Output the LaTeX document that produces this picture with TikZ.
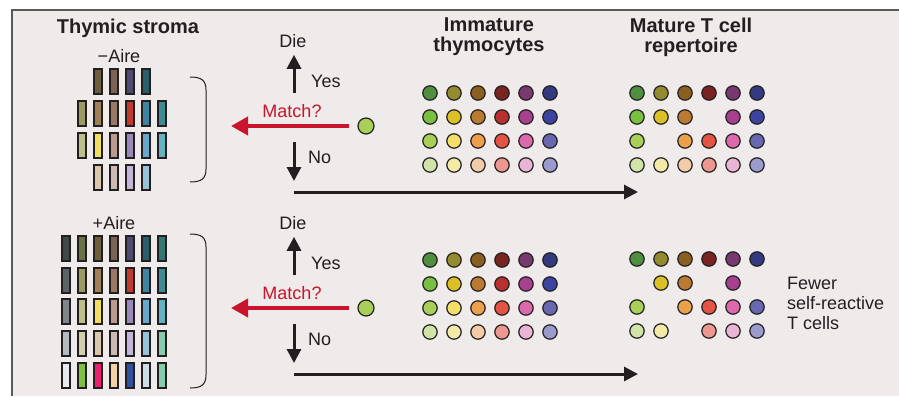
\documentclass[tikz,border=0pt]{standalone}
\usepackage{fontspec}
\setmainfont{Liberation Sans}
\usetikzlibrary{arrows.meta}
\definecolor{ink}{HTML}{231F20}
\definecolor{panel}{HTML}{EFEBEB}
\definecolor{frame}{HTML}{5A5858}
\definecolor{matchred}{HTML}{C8142C}
\definecolor{cellgreen}{HTML}{A8D058}
% clone colours, one column of the thymocyte grids per group (dark to light)
\newcommand\clonelist{{4E9040,78C040,A8D058,D0E4A8},{948A30,DCC028,F2DE68,F4EAA8},{8A6020,BA7A30,ECA04C,F2CCA8},{782420,B83030,E45444,EC9890},{7A3870,A84090,DC6AAA,E8B6D4},{343A80,3C44A0,6868B0,9A9ACC}}
\tikzset{
  title/.style={font=\fontsize{20}{20}\selectfont\bfseries, text=ink, align=center, inner sep=0pt},
  say/.style={font=\fontsize{18}{20}\selectfont, text=ink, inner sep=0pt},
  bar/.style={draw=ink, line width=1.1pt},
  dot/.style={draw=ink, line width=1.2pt},
  fate/.style={ink, line width=3pt, -{Triangle[length=14pt,width=14pt]}},
  probe/.style={matchred, line width=4pt, -{Triangle[length=17pt,width=18pt]}},
}
\begin{document}
\begin{tikzpicture}[x=1pt,y=-1pt]
  \useasboundingbox (0,0) rectangle (899,396);
  \fill [panel] (12,10) rectangle (899,396);
  \draw [frame, line width=1.4pt] (12,396) -- (12,10) -- (899,10);

  \node [title] (stroma) at (128,28) {Thymic stroma};
  \node [title] (immature) at (489,37) {Immature\\thymocytes};
  \node [title] (mature) at (691,37) {Mature T cell\\repertoire};
  \node [say] (minusaire) at (119,56) {−Aire};
  \node [say] (plusaire) at (114,223) {+Aire};

  % stroma, -Aire
  \foreach \h [count=\k from 3] in {6B5F3E,7B6353,4F4A72,2A5E6A}
    {\definecolor{tint}{HTML}{\h}\draw [bar, fill=tint] ({46+16*\k},69) rectangle +(8,25);}
  \foreach \h [count=\k from 2] in {9A9A62,A08058,9A7868,C03A30,3F85A3,3E8B92}
    {\definecolor{tint}{HTML}{\h}\draw [bar, fill=tint] ({46+16*\k},101) rectangle +(8,25);}
  \foreach \h [count=\k from 2] in {BEBE88,F2DE5E,BA9A8E,9A88BA,68A8CC,62B2C0}
    {\definecolor{tint}{HTML}{\h}\draw [bar, fill=tint] ({46+16*\k},133) rectangle +(8,25);}
  \foreach \h [count=\k from 3] in {D8C8AE,CABAB2,C0B6D8,98C2DA}
    {\definecolor{tint}{HTML}{\h}\draw [bar, fill=tint] ({46+16*\k},165) rectangle +(8,25);}

  % stroma, +Aire
  \foreach \h [count=\k] in {3E4A4A,6A7148,6B5F3E,7B6353,4F4A72,2A5E6A,367672}
    {\definecolor{tint}{HTML}{\h}\draw [bar, fill=tint] ({46+16*\k},236) rectangle +(8,25);}
  \foreach \h [count=\k] in {5A6468,9A9A62,A08058,9A7868,C03A30,3F85A3,3E8B92}
    {\definecolor{tint}{HTML}{\h}\draw [bar, fill=tint] ({46+16*\k},268) rectangle +(8,25);}
  \foreach \h [count=\k] in {7E868C,BEBE88,F2DE5E,BA9A8E,9A88BA,68A8CC,62B2C0}
    {\definecolor{tint}{HTML}{\h}\draw [bar, fill=tint] ({46+16*\k},299) rectangle +(8,25);}
  \foreach \h [count=\k] in {B4BAC0,D2CEAE,D8C8AE,CABAB2,C0B6D8,98C2DA,86CCAA}
    {\definecolor{tint}{HTML}{\h}\draw [bar, fill=tint] ({46+16*\k},331) rectangle +(8,25);}
  \foreach \h [count=\k] in {E8E8EE,7EC040,E8206E,F2D0A8,3050A0,CCDDE6,86CCAA}
    {\definecolor{tint}{HTML}{\h}\draw [bar, fill=tint] ({46+16*\k},363) rectangle +(8,25);}

  \draw [ink, line width=1pt] (190,77) .. controls (201,77) and (206,80) .. (206,90) -- (206,169) .. controls (206,179) and (201,182) .. (190,182);
  \draw [ink, line width=1pt] (190,234) .. controls (201,234) and (206,237) .. (206,247) -- (206,375) .. controls (206,385) and (201,388) .. (190,388);

  % selection step, once per panel
  \foreach \dy/\tag in {0/a,182/b} {
    \node [say] (die\tag) at (293,{41+\dy}) {Die};
    \node [say, anchor=west] (yes\tag) at (311,{81+\dy}) {Yes};
    \node [say, text=matchred] (match\tag) at (292,{111+\dy}) {Match?};
    \node [say, anchor=west] (no\tag) at (308,{157+\dy}) {No};
    \node [circle, dot, fill=cellgreen, minimum size=16pt, inner sep=0pt] (cell\tag) at (366,{126+\dy}) {};
    \coordinate (upfoot\tag) at (294,{93+\dy});
    \coordinate (probetip\tag) at (231,{126+\dy});
    \coordinate (downtop\tag) at (294,{142+\dy});
    \coordinate (downtip\tag) at (294,{181+\dy});
    \coordinate (passfoot\tag) at (294,{192+\dy});
    \coordinate (passtip\tag) at (638,{192+\dy});
    \draw [fate, shorten >=7pt] (upfoot\tag) -- (upfoot\tag |- die\tag.south);
    \draw [probe, shorten <=8pt] (cell\tag) -- (probetip\tag);
    \draw [fate] (downtop\tag) -- (downtip\tag);
    \draw [fate] (passfoot\tag) -- (passtip\tag);
  }

  % immature thymocytes
  \foreach \gy in {69,236}
    \foreach \c [count=\i] in \clonelist
      \foreach \h [count=\j] in \c {
        \definecolor{tint}{HTML}{\h}
        \draw [dot, fill=tint] ({406+24*\i},{\gy+24*\j}) circle (7.2);
      }

  % mature repertoire, deleted clones left out
  \foreach \c [count=\i] in \clonelist
    \foreach \h [count=\j] in \c {
      \definecolor{tint}{HTML}{\h}
      \pgfmathtruncatemacro\gone{(\i==4 && \j==2) || (\i==2 && \j==3)}
      \ifnum\gone=0 \draw [dot, fill=tint] ({613+24*\i},{69+24*\j}) circle (7.2); \fi
    }
  \foreach \c [count=\i] in \clonelist
    \foreach \h [count=\j] in \c {
      \definecolor{tint}{HTML}{\h}
      \pgfmathtruncatemacro\gone{(\j==2 && (\i==1 || \i==4 || \i==6)) || (\j==3 && \i==2) || (\j==4 && \i==3)}
      \ifnum\gone=0 \draw [dot, fill=tint] ({613+24*\i},{235+24*\j}) circle (7.2); \fi
    }

  \node [say, anchor=west, align=left] (fewer) at (787,303) {Fewer\\self-reactive\\T cells};
\end{tikzpicture}
\end{document}
